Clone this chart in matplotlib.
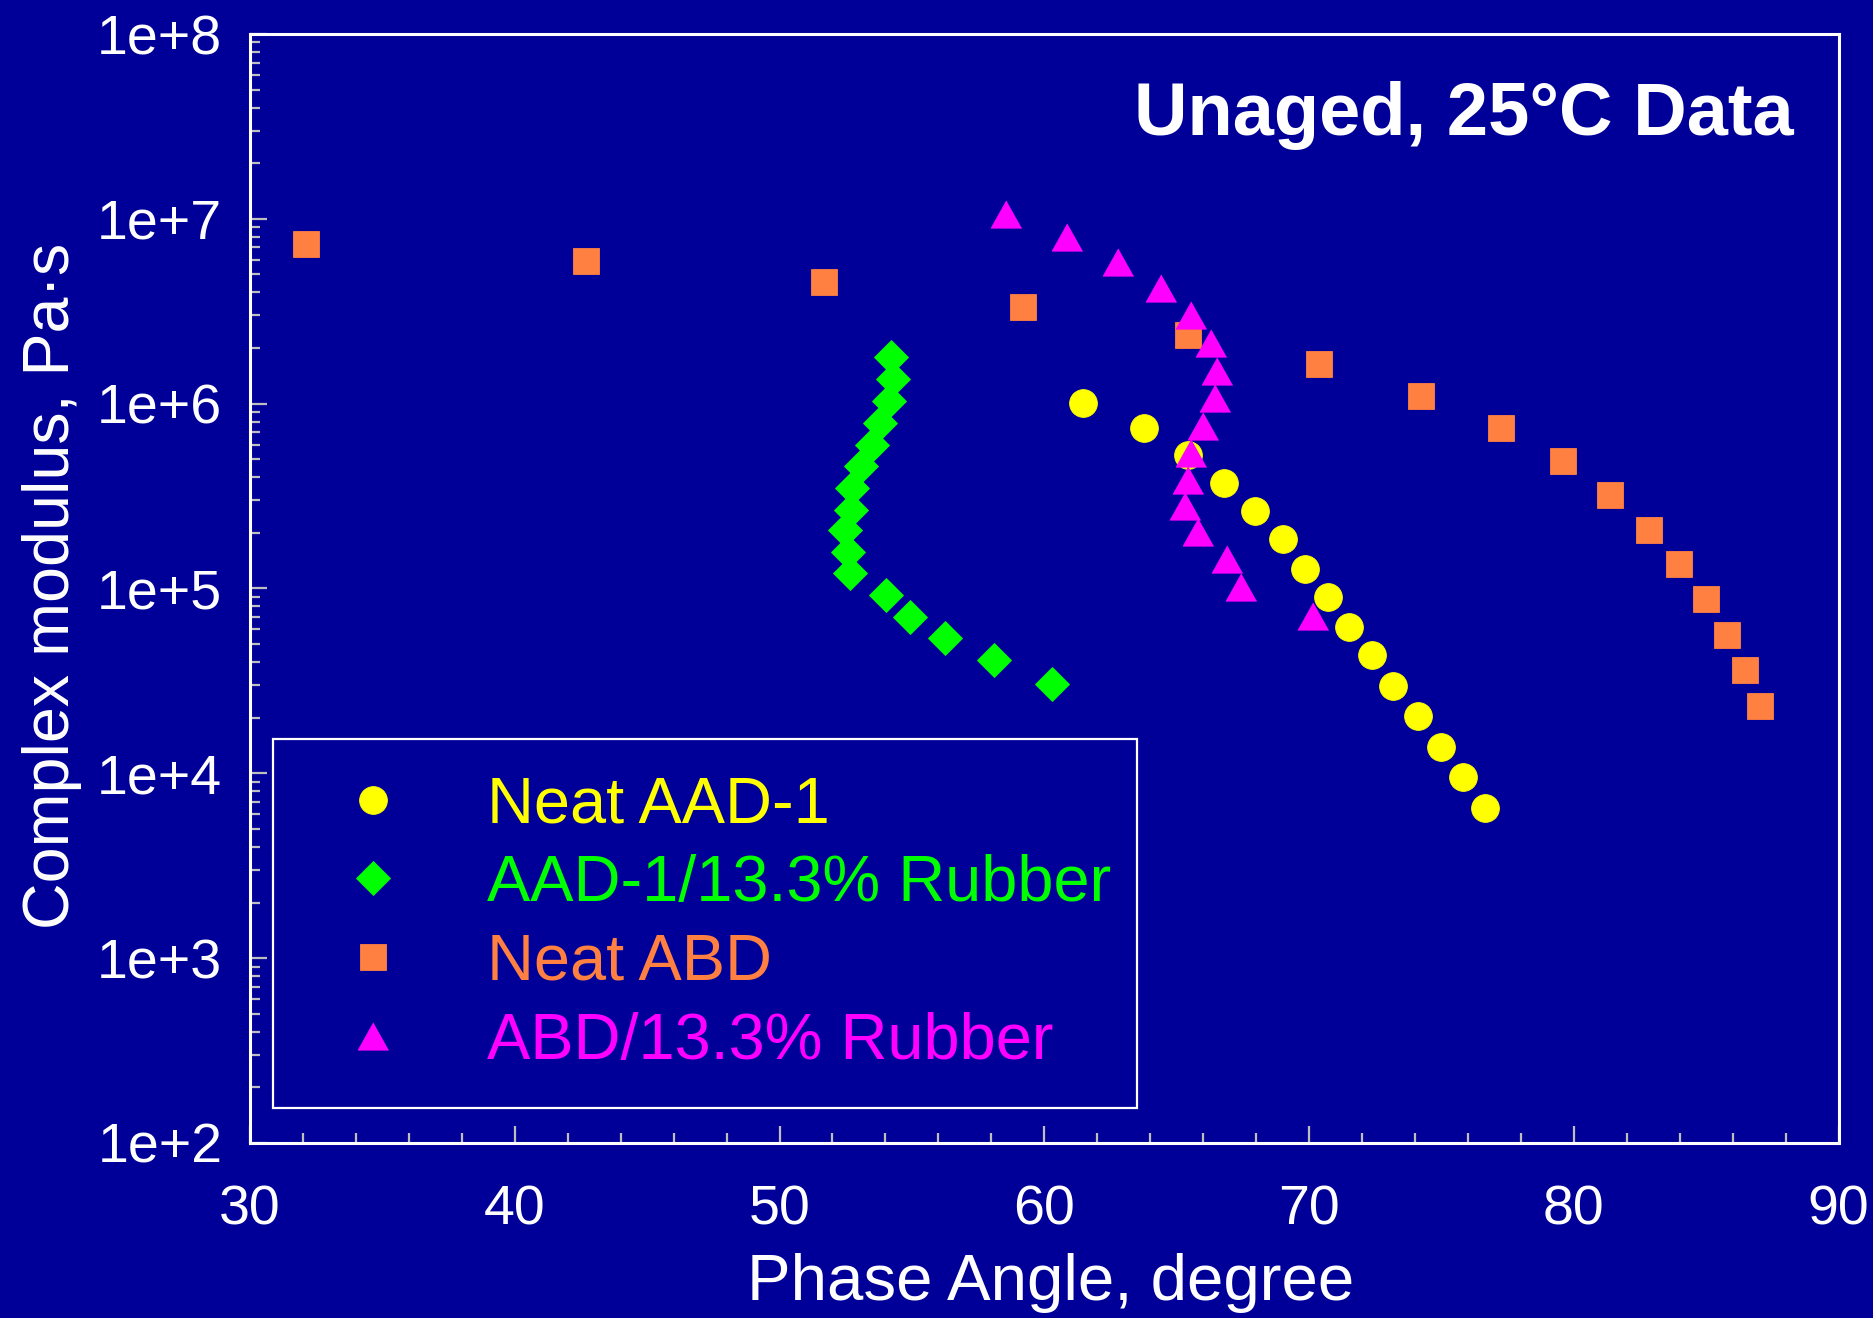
import math

import matplotlib
matplotlib.use("Agg")
import matplotlib.pyplot as plt
from matplotlib.ticker import FixedLocator, FuncFormatter, LogLocator, NullFormatter

plt.rcParams['font.family'] = ['Liberation Sans', 'DejaVu Sans']

# Phase angle (degree) and complex modulus (Pa·s) for each binder
aad_x = [61.47, 63.77, 65.44, 66.80, 67.96, 69.02, 69.84, 70.70, 71.52, 72.36,
         73.19, 74.13, 75.00, 75.82, 76.65]
aad_y = [1.01e6, 7.38e5, 5.25e5, 3.70e5, 2.62e5, 1.85e5, 1.27e5, 8.98e4, 6.21e4,
         4.35e4, 2.96e4, 2.03e4, 1.39e4, 9.5e3, 6.49e3]

aad_rub_x = [54.21, 54.27, 54.14, 53.80, 53.49, 53.08, 52.74, 52.71, 52.46, 52.58,
             52.68, 54.03, 54.93, 56.24, 58.09, 60.29]
aad_rub_y = [1.79e6, 1.36e6, 1.04e6, 7.88e5, 5.97e5, 4.59e5, 3.48e5, 2.66e5, 2.07e5,
             1.58e5, 1.21e5, 9.21e4, 6.98e4, 5.37e4, 4.10e4, 3.06e4]

abd_x = [32.12, 42.70, 51.68, 59.20, 65.42, 70.36, 74.24, 77.24, 79.59, 81.38,
         82.83, 83.99, 84.98, 85.80, 86.48, 87.05]
abd_y = [7.33e6, 5.91e6, 4.53e6, 3.32e6, 2.35e6, 1.63e6, 1.10e6, 7.38e5, 4.87e5,
         3.19e5, 2.08e5, 1.36e5, 8.73e4, 5.62e4, 3.62e4, 2.31e4]

abd_rub_x = [58.57, 60.84, 62.80, 64.41, 65.56, 66.30, 66.54, 66.46, 66.01, 65.55,
             65.44, 65.33, 65.79, 66.89, 67.43, 70.16]
abd_rub_y = [1.06e7, 7.94e6, 5.82e6, 4.21e6, 3.01e6, 2.12e6, 1.51e6, 1.07e6, 7.57e5,
             5.38e5, 3.87e5, 2.80e5, 2.02e5, 1.45e5, 1.02e5, 7.11e4]

labels = ["Neat AAD-1", "AAD-1/13.3% Rubber", "Neat ABD", "ABD/13.3% Rubber"]
x_ticks = [30, 40, 50, 60, 70, 80, 90]
y_ticks = [1e2, 1e3, 1e4, 1e5, 1e6, 1e7, 1e8]

BG = "#000099"
TICK = "#BEBEBE"
colors = ["#FFFF00", "#00FF00", "#FF8040", "#FF00FF"]
tri = [(0, 1), (-1.12, -1), (1.12, -1)]
styles = [dict(marker="o", ms=20), dict(marker="D", ms=17.3),
          dict(marker="s", ms=19), dict(marker=tri, ms=22)]

fig = plt.figure(figsize=(18.73, 13.18), dpi=100, facecolor=BG)
ax = fig.add_axes([0.1335, 0.1328, 0.8481, 0.8414], facecolor=BG)

series = [(aad_x, aad_y), (aad_rub_x, aad_rub_y), (abd_x, abd_y), (abd_rub_x, abd_rub_y)]
handles = []
for (xs, ys), c, st, lab in zip(series, colors, styles, labels):
    h, = ax.plot(xs, ys, linestyle="none", color=c, mfc=c, mec=c, mew=0.6,
                 label=lab, **st)
    handles.append(h)

ax.set_yscale("log")
ax.set_xlim(30, 90)
ax.set_ylim(1e2, 1e8)

ax.xaxis.set_major_locator(FixedLocator(x_ticks))
ax.xaxis.set_minor_locator(FixedLocator(list(range(30, 91, 2))))
ax.yaxis.set_major_locator(FixedLocator(y_ticks))
ax.yaxis.set_minor_locator(LogLocator(base=10, subs=range(2, 10)))
ax.yaxis.set_minor_formatter(NullFormatter())
ax.yaxis.set_major_formatter(FuncFormatter(lambda v, p: "1e+%d" % round(math.log10(v))))
ax.xaxis.set_major_formatter(FuncFormatter(lambda v, p: "%d" % v))

ax.tick_params(which="both", direction="in", color=TICK, width=1.6,
               top=False, right=False, labelcolor="white", labelsize=40)
ax.tick_params(which="major", length=12)
ax.tick_params(which="minor", length=7)
ax.tick_params(axis="x", which="major", pad=30)
ax.tick_params(axis="y", which="major", pad=20)

for sp in ax.spines.values():
    sp.set_color("white")
    sp.set_linewidth(2.2)

fig.text(0.5611, 0.0264, "Phase Angle, degree", color="white", fontsize=47.1,
         ha="center", va="center")
fig.text(0.0276, 0.5558, "Complex modulus, Pa·s", color="white", fontsize=46.5,
         ha="center", va="center", rotation=90)

ax.text(0.972, 0.909, "Unaged, 25°C Data", transform=ax.transAxes, color="white",
        fontsize=53.4, fontweight="bold", ha="right", va="baseline")

leg = ax.legend(handles=handles, loc="upper left",
                bbox_to_anchor=(0.01416, 0.0361, 0.5442, 0.3282), mode="expand",
                borderaxespad=0, fontsize=46.7, frameon=True, fancybox=False,
                facecolor=BG, edgecolor="white", framealpha=1,
                borderpad=0.56, labelspacing=0.29, handlelength=1.98,
                handletextpad=0.77, numpoints=1)
leg.get_frame().set_linewidth(1.6)
for t, c in zip(leg.get_texts(), colors):
    t.set_color(c)

fig.savefig("out.png", dpi=100, facecolor=BG)
